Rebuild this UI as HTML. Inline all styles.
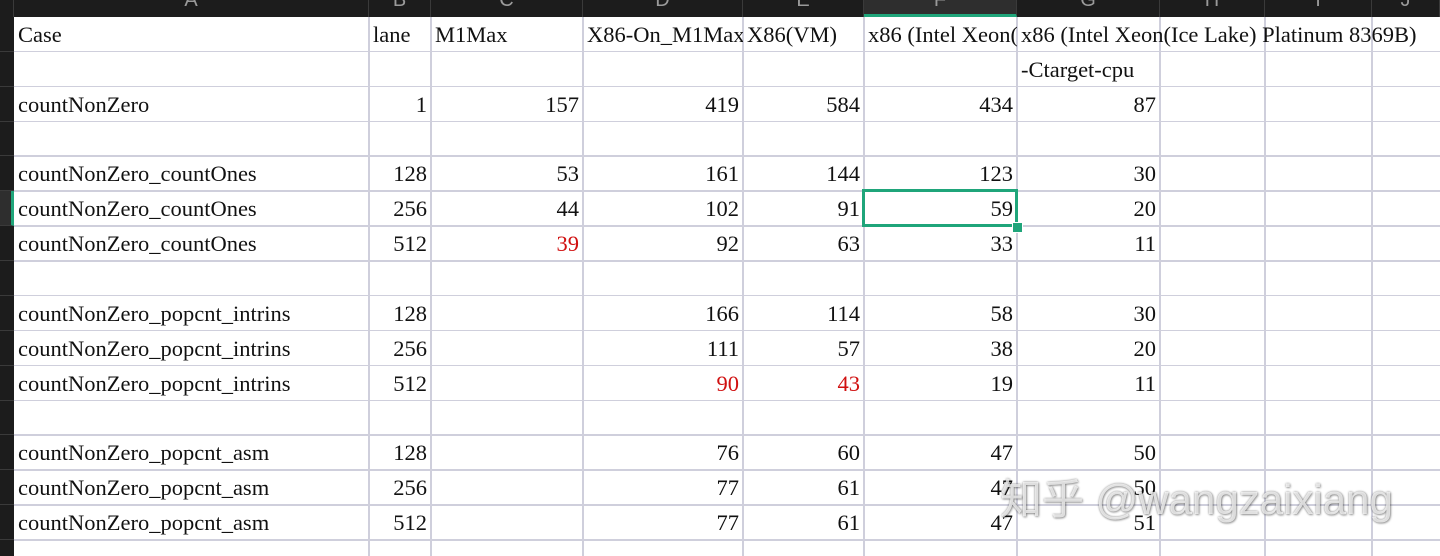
<!DOCTYPE html>
<html><head><meta charset="utf-8">
<style>
html,body{margin:0;padding:0;background:#fff;}
#sheet{position:relative;width:1440px;height:556px;overflow:hidden;background:#fff;font-family:"Liberation Serif","Noto Serif CJK SC",serif;font-size:22.5px;color:#111;}
.colhdr{position:absolute;top:0;height:17px;background:#1c1c1c;border-right:1px solid #3a3a3a;box-sizing:border-box;color:#9a9a9a;font-family:"Liberation Sans",sans-serif;font-size:20px;text-align:center;line-height:0px;overflow:hidden;}
.rowhdr{position:absolute;left:0;width:14px;background:#1c1c1c;border-bottom:1px solid #3a3a3a;box-sizing:border-box;}
.vl{position:absolute;top:17px;bottom:0;width:1.5px;background:#cfcfdc;}
.hl{position:absolute;left:14px;right:0;height:1.5px;background:#cfcfdc;}
.cell{position:absolute;height:34px;line-height:36px;white-space:nowrap;box-sizing:border-box;padding:0 4px;}
.r{text-align:right;}
.red{color:#d01010;}
.wm{position:absolute;left:1000px;top:466px;font-family:"Liberation Sans","Noto Sans CJK SC",sans-serif;font-size:42px;color:rgba(255,255,255,0.75);text-shadow:0 0 2px rgba(0,0,0,0.45),1px 1px 2px rgba(0,0,0,0.3);}
</style></head>
<body>
<div id="sheet"></div>
<script>
const colEdges=[14,369,431,583,743,864,1017,1160,1265,1372,1440];
const colLetters=["A","B","C","D","E","F","G","H","I","J"];
const rowTop=17, rowH=34.87, nRows=16;
const caseNames=["Case","","countNonZero","","countNonZero_countOnes","countNonZero_countOnes","countNonZero_countOnes","","countNonZero_popcnt_intrins","countNonZero_popcnt_intrins","countNonZero_popcnt_intrins","","countNonZero_popcnt_asm","countNonZero_popcnt_asm","countNonZero_popcnt_asm"];
const lanes=["","", "1","","128","256","512","","128","256","512","","128","256","512"];
const m1max=["","","157","","53","44","39","","","","","","","",""];
const x86OnM1=["","","419","","161","102","92","","166","111","90","","76","77","77"];
const x86VM=["","","584","","144","91","63","","114","57","43","","60","61","61"];
const xeon=["","","434","","123","59","33","","58","38","19","","47","47","47"];
const xeonTarget=["","","87","","30","20","11","","30","20","11","","50","50","51"];
const headers=["Case","lane","M1Max","X86-On_M1Max","X86(VM)","x86 (Intel Xeon(Ice Lake) Platinum 8369B)","x86 (Intel Xeon(Ice Lake) Platinum 8369B)"];
const redCells=["6-2","10-3","10-4"];
const S=document.getElementById('sheet');
for(let i=0;i<colLetters.length;i++){
  const d=document.createElement('div');
  d.className='colhdr';
  
  
  d.style.left=colEdges[i]+'px';d.style.width=(colEdges[i+1]-colEdges[i])+'px';
  if(i===5){d.style.background='#2e2e2e';d.style.borderBottom='3px solid #1fa57a';}
  d.textContent=colLetters[i];
  S.appendChild(d);
}
const corner=document.createElement('div');
corner.className='colhdr';corner.style.left='0px';corner.style.width='14px';


S.appendChild(corner);
for(let r=0;r<nRows;r++){
  const d=document.createElement('div');
  d.className='rowhdr';
  
  
  d.style.top=(rowTop+r*rowH)+'px';d.style.height=rowH+'px';
  if(r===5){d.style.background='#2e2e2e';d.style.borderRight='3px solid #1fa57a';}
  S.appendChild(d);
}
for(let i=1;i<colEdges.length-1;i++){
  const v=document.createElement('div');v.className='vl';
  
  
  v.style.left=(colEdges[i]-1)+'px';S.appendChild(v);
}
for(let r=1;r<=nRows;r++){
  const h=document.createElement('div');h.className='hl';
  
  
  h.style.top=(rowTop+r*rowH-1)+'px';S.appendChild(h);
}
function addCell(r,c,text,right,clip,name){
  if(text==="")return;
  const d=document.createElement('div');
  d.className='cell'+(right?' r':'')+(redCells.includes(r+'-'+c)?' red':'');
  
  
  d.style.top=(rowTop+r*rowH)+'px';
  d.style.left=colEdges[c]+'px';
  const w=colEdges[c+1]-colEdges[c];
  if(clip){d.style.width=w+'px';d.style.overflow='hidden';}
  else if(right){d.style.width=w+'px';}
  d.textContent=text;
  S.appendChild(d);
}
addCell(0,0,headers[0],false,true,'header-case');
addCell(0,1,headers[1],false,true,'header-lane');
addCell(0,2,headers[2],false,true,'header-m1max');
addCell(0,3,headers[3],false,true,'header-x86-on-m1max');
addCell(0,4,headers[4],false,true,'header-x86-vm');
addCell(0,5,headers[5],false,true,'header-xeon');
addCell(0,6,headers[6],false,false,'header-xeon-target');
addCell(1,6,"-Ctarget-cpu",false,false,'header-target-cpu-note');
for(let r=2;r<caseNames.length;r++){
  addCell(r,0,caseNames[r],false,true,'case-name-cell');
  addCell(r,1,lanes[r],true,false,'lane-cell');
  addCell(r,2,m1max[r],true,false,'m1max-cell');
  addCell(r,3,x86OnM1[r],true,false,'x86-on-m1max-cell');
  addCell(r,4,x86VM[r],true,false,'x86-vm-cell');
  addCell(r,5,xeon[r],true,false,'xeon-cell');
  addCell(r,6,xeonTarget[r],true,false,'xeon-target-cpu-cell');
}
const sel=document.createElement('div');


sel.style.cssText='position:absolute;left:862px;top:189px;width:156px;height:38px;border:3px solid #1fa57a;box-sizing:border-box;';
S.appendChild(sel);
const hdl=document.createElement('div');


hdl.style.cssText='position:absolute;left:1012px;top:222px;width:9px;height:9px;background:#1fa57a;border:1px solid #fff;';
S.appendChild(hdl);
const wm=document.createElement('div');
wm.className='wm';


wm.textContent='知乎 @wangzaixiang';
S.appendChild(wm);
</script>
</body></html>
